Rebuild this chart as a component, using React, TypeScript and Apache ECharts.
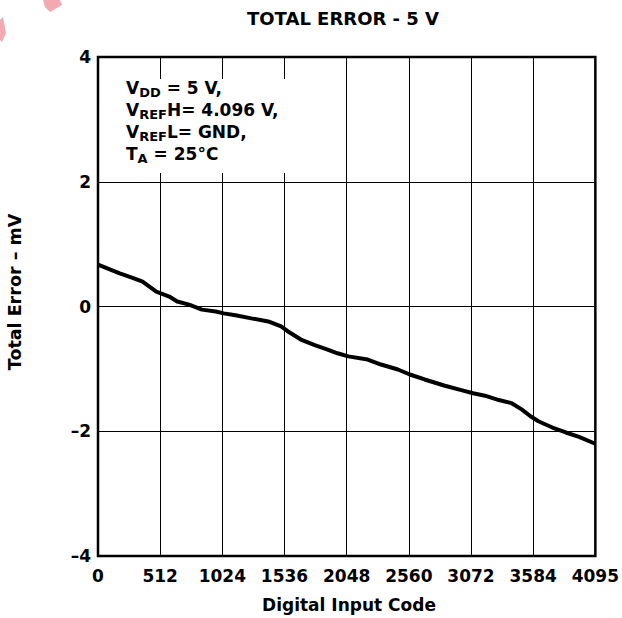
import React, { useEffect, useRef } from "react";
import * as echarts from "echarts";

const codes = [0, 179, 285, 367, 480, 587, 652, 750, 856, 970, 1035, 1133, 1263, 1402, 1508, 1565, 1671, 1785, 1891, 1973, 2062, 2221, 2331, 2470, 2568, 2690, 2857, 2992, 3089, 3187, 3301, 3407, 3489, 3562, 3627, 3742, 3853, 3962, 4095];
const errors = [0.67, 0.53, 0.46, 0.4, 0.24, 0.16, 0.08, 0.03, -0.05, -0.08, -0.11, -0.14, -0.19, -0.24, -0.32, -0.4, -0.53, -0.62, -0.69, -0.75, -0.8, -0.85, -0.93, -1.01, -1.09, -1.17, -1.27, -1.34, -1.39, -1.43, -1.5, -1.55, -1.65, -1.76, -1.84, -1.94, -2.02, -2.09, -2.2];
const xTicks = [0, 512, 1024, 1536, 2048, 2560, 3072, 3584, 4096];
const xTickLabels = ["0", "512", "1024", "1536", "2048", "2560", "3072", "3584", "4095"];
const yTicks = [-4, -2, 0, 2, 4];
const yTickLabels = ["\u20134", "\u20132", "0", "2", "4"];
const titleText = "TOTAL ERROR - 5 V";
const xTitle = "Digital Input Code";
const yTitle = "Total Error \u2013 mV";

const FONT = "'DejaVu Sans', 'Liberation Sans', Arial, sans-serif";

export default function App() {
  const ref = useRef<HTMLDivElement>(null);
  useEffect(() => {
    if (!ref.current) return;
    const chart = echarts.init(ref.current, null, { renderer: "svg" });
    const data = codes.map((c, i) => [c, errors[i]]);
    chart.setOption({
      animation: false,
      backgroundColor: "#fff",
      textStyle: { fontFamily: FONT },
      grid: {
        left: 98,
        right: 21.5,
        top: 57,
        bottom: 62,
        show: true,
        borderColor: "#000",
        borderWidth: 2.5,
        backgroundColor: "transparent",
      },
      xAxis: {
        type: "value",
        min: xTicks[0],
        max: xTicks[xTicks.length - 1],
        interval: 512,
        axisLine: { show: false },
        axisTick: { show: false },
        splitLine: { show: true, lineStyle: { color: "#000", width: 1 } },
        axisLabel: {
          color: "#000",
          fontSize: 17,
          fontWeight: "bold",
          fontFamily: FONT,
          margin: 11,
          showMaxLabel: true,
          showMinLabel: true,
          formatter: (v: number) => {
            const i = xTicks.indexOf(v);
            return i >= 0 ? xTickLabels[i] : "";
          },
        },
      },
      yAxis: {
        type: "value",
        min: -4,
        max: 4,
        interval: 2,
        axisLine: { show: false },
        axisTick: { show: false },
        splitLine: { show: true, lineStyle: { color: "#000", width: 1 } },
        axisLabel: {
          color: "#000",
          fontSize: 17,
          fontWeight: "bold",
          fontFamily: FONT,
          margin: 7,
          formatter: (v: number) => {
            const i = yTicks.indexOf(v);
            return i >= 0 ? yTickLabels[i] : "";
          },
        },
      },
      series: [
        {
          type: "line",
          data,
          showSymbol: false,
          symbol: "none",
          smooth: false,
          lineStyle: { color: "#000", width: 4 },
          z: 5,
        },
      ],
      graphic: [
        {
          type: "polygon",
          shape: { points: [[43, 0], [60, 0], [62, 5], [50, 12], [45, 7]] },
          style: { fill: "#f2a9b0" },
          silent: true,
        },
        {
          type: "polygon",
          shape: { points: [[0, 20], [3, 17], [6, 33], [2, 42], [0, 40]] },
          style: { fill: "#f2a9b0" },
          silent: true,
        },
        {
          type: "rect",
          shape: { x: 100, y: 79, width: 210, height: 94 },
          style: { fill: "#fff" },
          z: 50,
          silent: true,
        },
        {
          type: "text",
          x: 126,
          y: 77,
          z: 51,
          style: {
            text:
              "{m|V}{s|DD}{m| = 5 V,}\n{m|V}{s|REF}{m|H= 4.096 V,}\n{m|V}{s|REF}{m|L= GND,}\n{m|T}{s|A}{m| = 25\u00b0C}",
            fill: "#000",
            font: `bold 17px ${FONT}`,
            rich: {
              m: { fontSize: 17, fontWeight: "bold", fontFamily: FONT, lineHeight: 22, fill: "#000" },
              s: { fontSize: 13, fontWeight: "bold", fontFamily: FONT, lineHeight: 12, verticalAlign: "bottom", fill: "#000" },
            },
          },
        },
        {
          type: "text",
          x: 343,
          y: 18,
          style: {
            text: titleText,
            fill: "#000",
            font: `bold 18px ${FONT}`,
            align: "center",
            verticalAlign: "middle",
          },
        },
        {
          type: "text",
          x: 349,
          y: 605,
          style: {
            text: xTitle,
            fill: "#000",
            font: `bold 17px ${FONT}`,
            align: "center",
            verticalAlign: "middle",
          },
        },
        {
          type: "text",
          x: 15,
          y: 292,
          rotation: Math.PI / 2,
          style: {
            text: yTitle,
            fill: "#000",
            font: `bold 17.5px ${FONT}`,
            align: "center",
            verticalAlign: "middle",
          },
        },
      ],
    });
    return () => chart.dispose();
  }, []);
  return <div ref={ref} style={{ width: 622, height: 618, position: "absolute", left: 0, top: 0 }} />;
}
